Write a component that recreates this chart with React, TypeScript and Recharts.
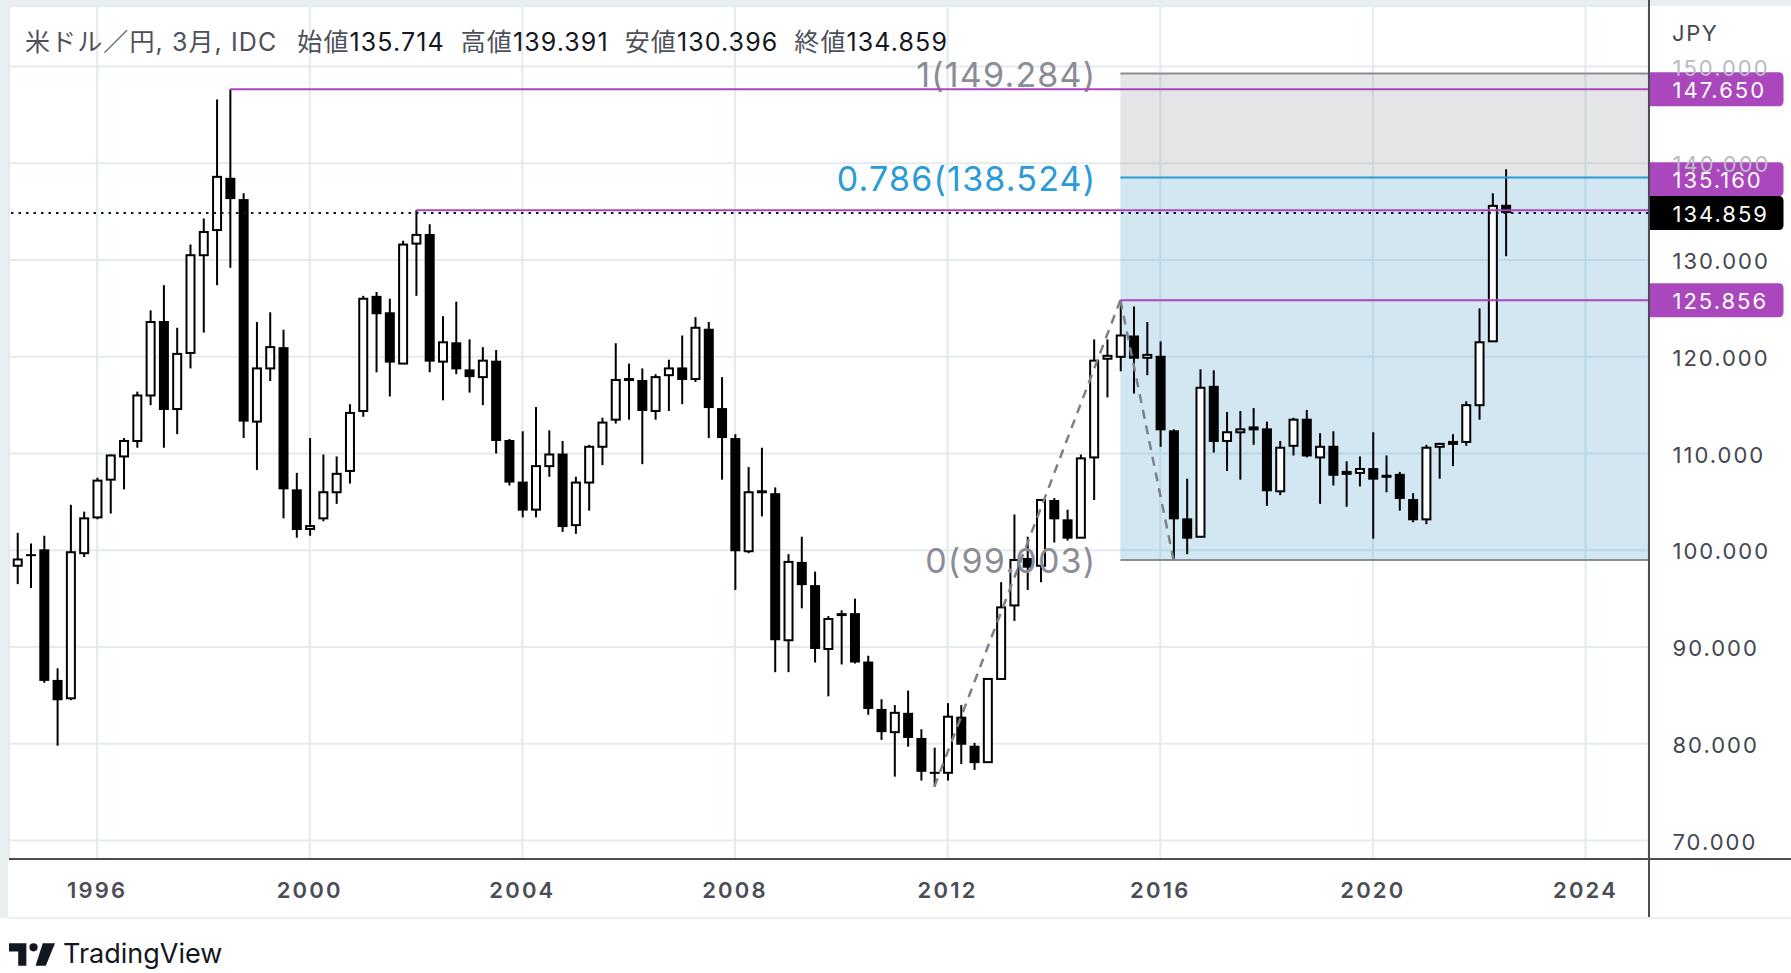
import React from "react";
import { Bar, CartesianGrid, ComposedChart, ReferenceArea, ReferenceLine, XAxis, YAxis } from "recharts";

// quarterly USD/JPY candles, first one is 1994 Q3 (t = -6), 1996 Q1 is t = 0
const firstT = -6;
const opens = [
  98.4, 99.6, 100.1, 86.6, 84.7, 99.7, 103.4, 107.3, 109.7, 111.3, 116.0, 123.7, 114.6, 120.4, 130.5, 133.1,
  138.5, 136.3, 113.3, 118.8, 121.0, 106.3, 102.2, 103.3, 106.0, 108.2, 114.4, 126.3, 124.6, 119.3, 131.7, 132.7,
  119.5, 121.5, 118.7, 117.9, 119.6, 111.4, 107.1, 104.2, 108.7, 110.0, 102.6, 107.0, 110.7, 113.5, 117.6, 117.6,
  114.4, 118.1, 118.9, 117.7, 122.9, 114.7, 111.6, 99.9, 106.0, 105.9, 90.7, 98.8, 96.4, 89.8, 93.5, 93.5,
  88.5, 83.6, 81.2, 83.2, 80.6, 77.1, 77.0, 82.8, 79.8, 78.1, 86.7, 94.3, 99.2, 98.4, 105.2, 103.2,
  101.3, 109.6, 119.8, 120.0, 122.2, 119.9, 120.1, 112.4, 103.3, 101.4, 117.0, 111.3, 112.2, 112.5, 112.6, 106.1,
  110.8, 113.6, 109.6, 110.8, 107.9, 108.0, 108.5, 107.6, 107.9, 105.3, 103.2, 110.7, 111.0, 111.2, 115.0, 121.6,
  135.714,
];
const highs = [
  101.8, 100.7, 101.5, 87.8, 104.7, 104.0, 107.5, 109.9, 111.6, 116.4, 124.8, 127.4, 123.0, 131.6, 134.3, 146.6,
  147.65, 136.9, 123.6, 124.6, 122.8, 108.0, 111.6, 109.9, 109.7, 115.1, 126.3, 126.7, 126.0, 132.0, 135.16, 133.7,
  124.2, 125.7, 121.8, 121.0, 120.7, 111.5, 112.3, 114.8, 112.4, 111.3, 107.6, 110.9, 113.7, 121.4, 119.3, 118.8,
  118.2, 119.7, 122.2, 124.1, 123.6, 117.9, 112.0, 108.6, 110.6, 106.5, 99.6, 101.4, 97.8, 93.2, 93.8, 95.0,
  89.1, 84.6, 84.0, 85.5, 81.5, 79.6, 84.2, 84.0, 80.1, 86.8, 96.7, 103.7, 101.4, 105.3, 105.4, 104.2,
  109.9, 121.8, 121.8, 125.86, 125.2, 123.6, 121.6, 112.5, 107.4, 118.7, 118.6, 114.3, 114.4, 114.7, 113.3, 111.3,
  113.7, 114.5, 112.1, 112.3, 109.2, 109.7, 112.2, 109.8, 108.1, 105.9, 110.9, 111.1, 112.0, 115.4, 125.0, 136.9,
  139.391,
];
const lows = [
  96.5, 96.1, 86.3, 79.8, 84.5, 99.3, 103.2, 103.8, 106.3, 110.6, 115.0, 110.6, 112.0, 118.8, 122.5, 127.4,
  129.2, 111.6, 108.3, 117.5, 103.3, 101.3, 101.5, 103.0, 104.8, 106.9, 113.8, 118.4, 115.9, 119.3, 126.3, 118.4,
  115.5, 118.2, 116.3, 115.0, 110.0, 106.7, 103.4, 103.4, 107.6, 101.9, 101.7, 104.1, 108.8, 113.1, 113.5, 108.9,
  113.5, 114.4, 115.1, 117.4, 111.6, 107.3, 95.9, 99.7, 103.5, 87.4, 87.4, 94.0, 88.4, 84.9, 88.2, 88.3,
  83.0, 80.4, 76.6, 79.7, 76.2, 75.56, 76.2, 77.9, 77.3, 78.1, 86.7, 92.7, 95.9, 96.7, 100.8, 101.0,
  101.3, 105.2, 115.8, 118.5, 116.2, 118.1, 110.7, 99.0, 99.6, 101.4, 110.1, 108.2, 107.3, 110.9, 104.6, 105.7,
  109.8, 109.6, 104.8, 106.7, 104.5, 106.6, 101.2, 106.0, 104.1, 102.9, 102.7, 107.4, 108.7, 110.8, 113.5, 121.6,
  130.396,
];
const closes = [
  99.05, 99.4, 86.5, 84.5, 99.8, 103.3, 107.2, 109.8, 111.3, 116.0, 123.6, 114.5, 120.3, 130.5, 132.9, 138.6,
  136.3, 113.3, 118.8, 121.0, 106.3, 102.1, 102.5, 106.0, 107.9, 114.2, 126.0, 124.4, 119.4, 131.6, 132.6, 119.5,
  121.5, 118.7, 117.9, 119.6, 111.3, 107.0, 104.1, 108.7, 109.9, 102.4, 107.0, 110.7, 113.2, 117.6, 117.7, 114.4,
  117.9, 118.8, 117.6, 123.0, 114.7, 111.6, 99.9, 106.0, 106.1, 90.7, 98.8, 96.4, 89.8, 92.9, 93.2, 88.4,
  83.6, 81.2, 83.2, 80.6, 77.1, 77.0, 82.8, 79.9, 78.0, 86.7, 94.1, 99.0, 98.2, 105.2, 103.2, 101.2,
  109.5, 119.6, 120.1, 122.2, 119.8, 120.2, 112.4, 103.2, 101.2, 116.8, 111.2, 112.2, 112.5, 112.7, 106.1, 110.6,
  113.5, 109.7, 110.7, 107.7, 108.1, 108.4, 107.3, 107.7, 105.3, 103.1, 110.6, 111.0, 111.2, 115.0, 121.5, 135.6,
  134.859,
];

const yearTicks = [0, 16, 32, 48, 64, 80, 96, 112];
const priceTicks = [70, 80, 90, 100, 110, 120, 130, 140, 150];
const fadedTicks = [140, 150];

// horizontal levels drawn from a given candle to the right edge
const levels = [
  { price: 147.65, from: 10 },
  { price: 135.16, from: 24 },
  { price: 125.856, from: 77 },
];

// trend-based fib drawing
const trendPoints = [
  { t: 63, p: 75.56 },
  { t: 77, p: 125.86 },
  { t: 81, p: 99.003 },
];
const fibStart = 77;
const fibLevels = [
  { ratio: "1", price: 149.284 },
  { ratio: "0.786", price: 138.524 },
  { ratio: "0", price: 99.003 },
];

const titleName = "米ドル／円, 3月, IDC";
const ohlcNames = ["始値", "高値", "安値", "終値"];

const xMin = -6.63;
const xMax = 116.74;
const yMin = 68.09;
const yMax = 156.26;

const data = opens.map((o, i) => ({
  t: firstT + i,
  o,
  h: highs[i],
  l: lows[i],
  c: closes[i],
  range: [lows[i], highs[i]],
}));

const last = data[data.length - 1];
const ohlcValues = [last.o, last.h, last.l, last.c];

const PURPLE = "#ab47bc";
const FIB_GRAY = "#8a8d96";
const FIB_BLUE = "#2a9bd7";
const AXIS_TEXT = "#434651";
const SANS = "Inter, 'Noto Sans CJK JP', sans-serif";

function Candle(props: any) {
  const { x, y, width, height, payload } = props;
  if (!payload || x == null || y == null) return null;
  const cx = x + width / 2;
  const top = Math.min(y, y + height);
  const bot = Math.max(y, y + height);
  const span = payload.h - payload.l;
  const py = (v: number) => (span === 0 ? top : top + ((payload.h - v) / span) * (bot - top));
  const yo = py(payload.o);
  const yc = py(payload.c);
  const bodyTop = Math.min(yo, yc);
  const up = payload.c >= payload.o;
  if (up) {
    const h = Math.max(Math.abs(yc - yo), 1);
    return (
      <g>
        <line x1={cx} x2={cx} y1={top} y2={bot} stroke="#000" strokeWidth={2} />
        <rect x={cx - 4} y={bodyTop} width={8} height={h} fill="#fff" stroke="#000" strokeWidth={2} />
      </g>
    );
  }
  const h = Math.max(Math.abs(yc - yo), 2);
  return (
    <g>
      <line x1={cx} x2={cx} y1={top} y2={bot} stroke="#000" strokeWidth={2} />
      <rect x={cx - 5} y={bodyTop} width={10} height={h} fill="#000" />
    </g>
  );
}

function PriceTag({ viewBox, text, bg, shift = 0 }: any) {
  if (!viewBox) return null;
  const left = viewBox.x + viewBox.width + 1;
  const cy = viewBox.y + shift;
  const w = 134;
  const h = 34;
  const r = 5;
  const t = cy - h / 2;
  const d = `M${left},${t} H${left + w - r} Q${left + w},${t} ${left + w},${t + r} V${t + h - r} Q${left + w},${t + h} ${left + w - r},${t + h} H${left} Z`;
  return (
    <g>
      <path d={d} fill={bg} />
      <text x={left + 23} y={cy + 1} fill="#fff" fontSize={22} fontFamily={SANS} letterSpacing={2} dominantBaseline="central">
        {text}
      </text>
    </g>
  );
}

function FibLabel({ viewBox, text, color }: any) {
  if (!viewBox) return null;
  return (
    <text x={viewBox.x - 24} y={viewBox.y + 1} fill={color} fontSize={34} fontFamily={SANS} textAnchor="end" dominantBaseline="central" letterSpacing={1.2}>
      {text}
    </text>
  );
}

function YTick(props: any) {
  const { x, y, payload } = props;
  const faded = fadedTicks.includes(payload.value);
  return (
    <text x={x + 24} y={y + 1} fill={faded ? "#b8bbc3" : AXIS_TEXT} fontSize={22} fontFamily={SANS} letterSpacing={2} dominantBaseline="central">
      {payload.value.toFixed(3)}
    </text>
  );
}

function XTick(props: any) {
  const { x, y, payload } = props;
  return (
    <text x={x} y={y + 31} fill="#4a4d57" fontSize={22} fontWeight={600} fontFamily={SANS} letterSpacing={2.2} textAnchor="middle" dominantBaseline="central">
      {1996 + payload.value / 4}
    </text>
  );
}

function Logo() {
  return (
    <div style={{ position: "absolute", left: 9, top: 940, display: "flex", alignItems: "center", gap: 8 }}>
      <svg width={46} height={23} viewBox="0 0 45 22">
        <path d="M0 0 H17 V22 H9 V8 H0 Z" fill="#131722" />
        <circle cx={24} cy={4} r={4} fill="#131722" />
        <path d="M33 0 H45 L36 22 H26 Z" fill="#131722" />
      </svg>
      <span style={{ fontFamily: SANS, fontSize: 27, color: "#131722", lineHeight: "28px" }}>TradingView</span>
    </div>
  );
}

export default function App() {
  return (
    <div style={{ position: "absolute", left: 0, top: 0, width: 1791, height: 973, background: "#fff", overflow: "hidden" }}>
      <div style={{ position: "absolute", left: 0, top: 0, width: 1791, height: 6, background: "#e9eef0" }} />
      <div style={{ position: "absolute", left: 0, top: 0, width: 8, height: 918, background: "#e9eef0" }} />
      <div style={{ position: "absolute", left: 0, top: 0 }}>
        <ComposedChart width={1791} height={918} data={data} margin={{ top: 6, right: 0, left: 9, bottom: 0 }}>
          <CartesianGrid stroke="#e3ebf1" strokeWidth={2} />
          <XAxis
            dataKey="t"
            type="number"
            domain={[xMin, xMax]}
            allowDataOverflow
            ticks={yearTicks}
            interval={0}
            height={59}
            tickLine={false}
            tickSize={0}
            tickMargin={0}
            axisLine={false}
            tick={<XTick />}
          />
          <YAxis
            orientation="right"
            type="number"
            domain={[yMin, yMax]}
            allowDataOverflow
            ticks={priceTicks}
            interval={0}
            width={142.5}
            tickLine={false}
            tickSize={0}
            tickMargin={0}
            axisLine={false}
            tick={<YTick />}
          />
          <ReferenceArea
            x1={fibStart}
            x2={xMax}
            y1={fibLevels[1].price}
            y2={fibLevels[0].price}
            fill="#787b86"
            fillOpacity={0.2}
            stroke="none"
            ifOverflow="visible"
          />
          <ReferenceArea
            x1={fibStart}
            x2={xMax}
            y1={fibLevels[2].price}
            y2={fibLevels[1].price}
            fill="#2387c3"
            fillOpacity={0.2}
            stroke="none"
            ifOverflow="visible"
          />
          {fibLevels.map((f) => (
            <ReferenceLine
              key={f.ratio}
              segment={[
                { x: fibStart, y: f.price },
                { x: xMax, y: f.price },
              ]}
              stroke={f.ratio === "0.786" ? FIB_BLUE : FIB_GRAY}
              strokeWidth={2}
              ifOverflow="visible"
              label={(p: any) => (
                <FibLabel viewBox={p.viewBox} text={`${f.ratio}(${f.price.toFixed(3)})`} color={f.ratio === "0.786" ? FIB_BLUE : FIB_GRAY} />
              )}
            />
          ))}
          {trendPoints.slice(1).map((pt, i) => (
            <ReferenceLine
              key={`trend-${i}`}
              segment={[
                { x: trendPoints[i].t, y: trendPoints[i].p },
                { x: pt.t, y: pt.p },
              ]}
              stroke="#7d8089"
              strokeWidth={2.5}
              strokeDasharray="9 7"
              ifOverflow="visible"
            />
          ))}
          <Bar dataKey="range" barSize={10} shape={<Candle />} isAnimationActive={false} />
          {levels.map((lv) => (
            <ReferenceLine
              key={lv.price}
              segment={[
                { x: lv.from, y: lv.price },
                { x: xMax, y: lv.price },
              ]}
              stroke={PURPLE}
              strokeWidth={2}
              ifOverflow="visible"
              label={(p: any) => (
                <PriceTag viewBox={p.viewBox} text={lv.price.toFixed(3)} bg={PURPLE} shift={lv.price === 135.16 ? -31 : 0} />
              )}
            />
          ))}
          <ReferenceLine
            y={last.c}
            stroke="#131722"
            strokeWidth={2}
            strokeDasharray="2.5 5"
            ifOverflow="visible"
            label={(p: any) => <PriceTag viewBox={p.viewBox} text={last.c.toFixed(3)} bg="#000" />}
          />
        </ComposedChart>
      </div>
      {/* chart frame lines */}
      <div style={{ position: "absolute", left: 9, top: 858, width: 1782, height: 2, background: "#4a4d57" }} />
      <div style={{ position: "absolute", left: 1647.5, top: 0, width: 2, height: 918, background: "#4a4d57" }} />
      <div style={{ position: "absolute", left: 8, top: 917, width: 1783, height: 2, background: "#eef0f3" }} />
      <div style={{ position: "absolute", left: 1672, top: 20, fontFamily: SANS, fontSize: 22, color: AXIS_TEXT, letterSpacing: 1.6 }}>
        JPY
      </div>
      <div
        style={{
          position: "absolute",
          left: 25,
          top: 25,
          height: 30,
          display: "flex",
          alignItems: "center",
          fontFamily: SANS,
          fontSize: 25,
          letterSpacing: 1.1,
          whiteSpace: "nowrap",
          color: "#4d5059",
        }}
      >
        <span style={{ marginRight: 20 }}>{titleName}</span>
        {ohlcNames.map((name, i) => (
          <span key={name} style={{ marginRight: 16 }}>
            {name}
            <span style={{ color: "#131722" }}>{ohlcValues[i].toFixed(3)}</span>
          </span>
        ))}
      </div>
      <Logo />
    </div>
  );
}
